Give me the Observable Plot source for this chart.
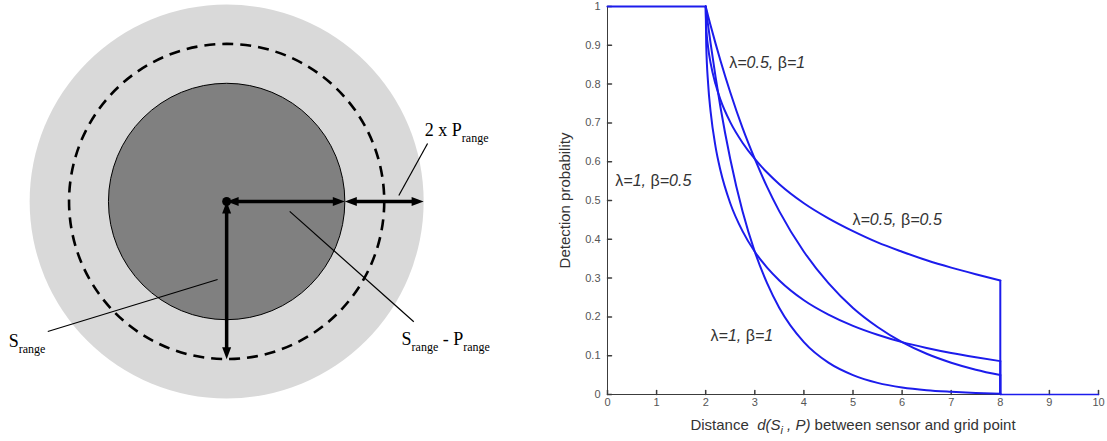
<!DOCTYPE html>
<html>
<head>
<meta charset="utf-8">
<script src="https://cdn.jsdelivr.net/npm/d3@7"></script>
<script src="https://cdn.jsdelivr.net/npm/@observablehq/plot@0.6"></script>
<style>
html, body { margin: 0; padding: 0; background: #fff; }
#wrap { display: flex; width: 1107px; height: 441px; overflow: hidden; }
#wrap svg { display: block; }
</style>
</head>
<body>
<div id="wrap"></div>
<script>
// ================= Left diagram data (in range units) =================
const sRange = 4;          // sensing range
const pRange = 1;          // uncertainty range
const ringNames = ["Srange - Prange", "Srange", "Srange + Prange"];
const ringRadii = [sRange - pRange, sRange, sRange + pRange];
const diagramLabels = ["S_{range}", "S_{range} - P_{range}", "2 x P_{range}"];
const diagramLabelX = [-5.53, 4.44, 5.03];
const diagramLabelY = [-3.68, -3.63, 1.65];
const leaderFromX = [-4.54, 4.75, 5.10];
const leaderFromY = [-3.30, -3.05, 1.47];
const leaderToX = [-0.23, 1.60, 4.37];
const leaderToY = [-1.98, -0.25, 0.15];

// ================= Right chart data =================
const distance = [2, 2.01, 2.05, 2.1, 2.2, 2.3, 2.5, 2.75, 3, 3.25, 3.5, 4, 4.5, 5, 5.5, 6, 6.5, 7, 7.5, 8];
const pL1B1   = [1, .990, .951, .905, .819, .741, .607, .472, .368, .287, .223, .135, .082, .050, .030, .018, .011, .007, .004, .002];
const pL05B1  = [1, .995, .975, .951, .905, .861, .779, .687, .607, .535, .472, .368, .287, .223, .174, .135, .105, .082, .064, .050];
const pL1B05  = [1, .905, .800, .729, .639, .578, .493, .421, .368, .327, .294, .243, .206, .177, .154, .135, .120, .107, .096, .086];
const pL05B05 = [1, .951, .894, .854, .800, .760, .702, .649, .607, .572, .542, .493, .454, .421, .392, .368, .346, .327, .310, .294];
const seriesNames = ["λ=1, β=1", "λ=0.5, β=1", "λ=1, β=0.5", "λ=0.5, β=0.5"];
const seriesValues = [pL1B1, pL05B1, pL1B05, pL05B05];
const plateauX = [0, 2];
const plateauP = [1, 1];
const tailX = [8, 10];
const tailP = [0, 0];
const noteTexts = ["λ=1, β=0.5", "λ=0.5, β=1", "λ=0.5, β=0.5", "λ=1, β=1"];
const noteX = [0.16, 2.48, 4.99, 2.10];
const noteP = [0.55, 0.855, 0.45, 0.15];
const xTicks = [0, 1, 2, 3, 4, 5, 6, 7, 8, 9, 10];
const yTicks = [0, 0.1, 0.2, 0.3, 0.4, 0.5, 0.6, 0.7, 0.8, 0.9, 1];
const xLabel = "Distance  *d(S*_{*i*}* , P)* between sensor and grid point";
const yLabel = "Detection probability";

// ---------- helpers ----------
function fillGreek(sel, txt) {
  const pieces = txt.split(/([λβ])/).filter(p => p !== "");
  for (const p of pieces) {
    const t = sel.append("tspan").text(p);
    if (/[λβ]/.test(p)) t.attr("font-style", "normal");
  }
}
function richify(svg, subSize, subShift) {
  d3.select(svg).selectAll("text").each(function () {
    const s = this.textContent;
    if (!/[*λβ]|_\{/.test(s)) return;
    const el = d3.select(this);
    el.text(null).style("white-space", "pre");
    const parts = s.split(/(\*[^*]*\*|_\{[^}]*\})/).filter(p => p !== "");
    let shifted = 0;
    for (const p of parts) {
      if (p.startsWith("_{")) {
        let txt = p.slice(2, -1);
        const t = el.append("tspan").attr("font-size", subSize).attr("dy", subShift);
        if (txt.startsWith("*") && txt.endsWith("*")) { txt = txt.slice(1, -1); t.attr("font-style", "italic"); }
        t.text(txt);
        shifted = subShift;
      } else {
        const italic = p.length > 1 && p.startsWith("*") && p.endsWith("*");
        const txt = italic ? p.slice(1, -1) : p;
        const t = el.append("tspan");
        if (italic) t.attr("font-style", "italic");
        if (shifted) { t.attr("dy", -shifted); shifted = 0; }
        fillGreek(t, txt);
      }
    }
  });
}

// ================= Left diagram =================
const rings = ringRadii.map((r, i) => ({name: ringNames[i], x: 0, y: 0, r}));
const center = [{x: 0, y: 0}];
const arrows = [
  {x1: 0, y1: 0, x2: sRange - pRange, y2: 0},
  {x1: sRange - pRange, y1: 0, x2: sRange + pRange, y2: 0},
  {x1: 0, y1: 0, x2: 0, y2: -sRange}
];
const heads = arrows.flatMap(a => {
  const ang = Math.atan2(a.x2 - a.x1, a.y2 - a.y1) * 180 / Math.PI;
  return [{x: a.x2, y: a.y2, rotate: ang}, {x: a.x1, y: a.y1, rotate: ang + 180}];
});
const leaders = leaderFromX.map((x, i) => ({x1: x, y1: leaderFromY[i], x2: leaderToX[i], y2: leaderToY[i]}));
const labels = diagramLabels.map((t, i) => ({text: t, x: diagramLabelX[i], y: diagramLabelY[i]}));

const left = Plot.plot({
  width: 550, height: 441, margin: 0,
  x: {domain: [-5.74, 8.22], axis: null},
  y: {domain: [-6.09, 5.10], axis: null},
  r: {type: "linear", domain: [0, 5], range: [0, 197]},
  style: {background: "white", fontFamily: "Liberation Serif"},
  marks: [
    Plot.dot([rings[2]], {x: "x", y: "y", r: "r", fill: "#d9d9d9", stroke: "none"}),
    Plot.dot([rings[1]], {x: "x", y: "y", r: "r", fill: "none", stroke: "black", strokeWidth: 2.6, strokeDasharray: "11,7"}),
    Plot.dot([rings[0]], {x: "x", y: "y", r: "r", fill: "#808080", stroke: "black", strokeWidth: 1}),
    Plot.link(leaders, {x1: "x1", y1: "y1", x2: "x2", y2: "y2", stroke: "black", strokeWidth: 1.2}),
    Plot.arrow(arrows, {x1: "x1", y1: "y1", x2: "x2", y2: "y2", headLength: 0, insetStart: 8, insetEnd: 8, stroke: "black", strokeWidth: 3.5}),
    Plot.vector(heads, {x: "x", y: "y", rotate: "rotate", length: 12, r: 4.5, shape: "spike", anchor: "end", fill: "black", stroke: "none"}),
    Plot.dot(center, {x: "x", y: "y", r: 4.5, fill: "black"}),
    Plot.text(labels, {x: "x", y: "y", text: "text", textAnchor: "start", lineAnchor: "bottom", fontSize: 18, fill: "black"})
  ]
});
richify(left, 12, 6);

// ================= Right chart =================
const blue = "#1c1cec";
const rows = seriesNames.flatMap((name, k) => distance.map((d, i) => ({series: name, d, p: seriesValues[k][i]})));
const drops = seriesNames.map((name, k) => ({series: name, d: distance[distance.length - 1], p: seriesValues[k][distance.length - 1]}));
const plateau = plateauX.map((d, i) => ({d, p: plateauP[i]}));
const tail = tailX.map((d, i) => ({d, p: tailP[i]}));
const notes = noteTexts.map((t, i) => ({text: t, d: noteX[i], p: noteP[i]}));
const tickShape = {draw(context, l) { context.moveTo(0, 0); context.lineTo(0, -l); }};
const axisColor = "#3c3c3c";

const right = Plot.plot({
  width: 557, height: 441,
  marginLeft: 57, marginRight: 9, marginTop: 6, marginBottom: 47,
  x: {domain: [0, 10]},
  y: {domain: [0, 1]},
  style: {background: "white", fontFamily: "Liberation Sans", color: "#555"},
  marks: [
    Plot.ruleY([0], {stroke: axisColor, strokeWidth: 1}),
    Plot.ruleX([0], {stroke: axisColor, strokeWidth: 1}),
    Plot.vector(xTicks, {x: d => d, y: 0, length: 4, rotate: 0, anchor: "start", shape: tickShape, stroke: axisColor}),
    Plot.vector(yTicks, {x: 0, y: d => d, length: 4, rotate: 90, anchor: "start", shape: tickShape, stroke: axisColor}),
    Plot.axisX({ticks: xTicks, tickSize: 0, tickPadding: 4, fontSize: 11, label: null, tickFormat: d => String(d)}),
    Plot.axisY({ticks: yTicks, tickSize: 0, tickPadding: 7, fontSize: 11, label: null, tickFormat: d => String(d)}),
    Plot.line(tail, {x: "d", y: "p", stroke: blue, strokeWidth: 1.5}),
    Plot.line(plateau, {x: "d", y: "p", stroke: blue, strokeWidth: 2}),
    Plot.line(rows, {x: "d", y: "p", z: "series", stroke: blue, strokeWidth: 2, curve: "monotone-x"}),
    Plot.ruleX(drops, {x: "d", y1: 0, y2: "p", stroke: blue, strokeWidth: 2}),
    Plot.text(notes, {x: "d", y: "p", text: "text", textAnchor: "start", fontSize: 16, fontStyle: "italic", fill: "#333"}),
    Plot.text([yLabel], {frameAnchor: "left", textAnchor: "middle", rotate: -90, dx: -42, fontSize: 15, fill: "#333"}),
    Plot.text([xLabel], {frameAnchor: "bottom", textAnchor: "middle", dy: 35, lineAnchor: "bottom", fontSize: 15, fill: "#333"})
  ]
});
richify(right, 11, 4);

const wrap = document.getElementById("wrap");
wrap.appendChild(left);
wrap.appendChild(right);
</script>
</body>
</html>
